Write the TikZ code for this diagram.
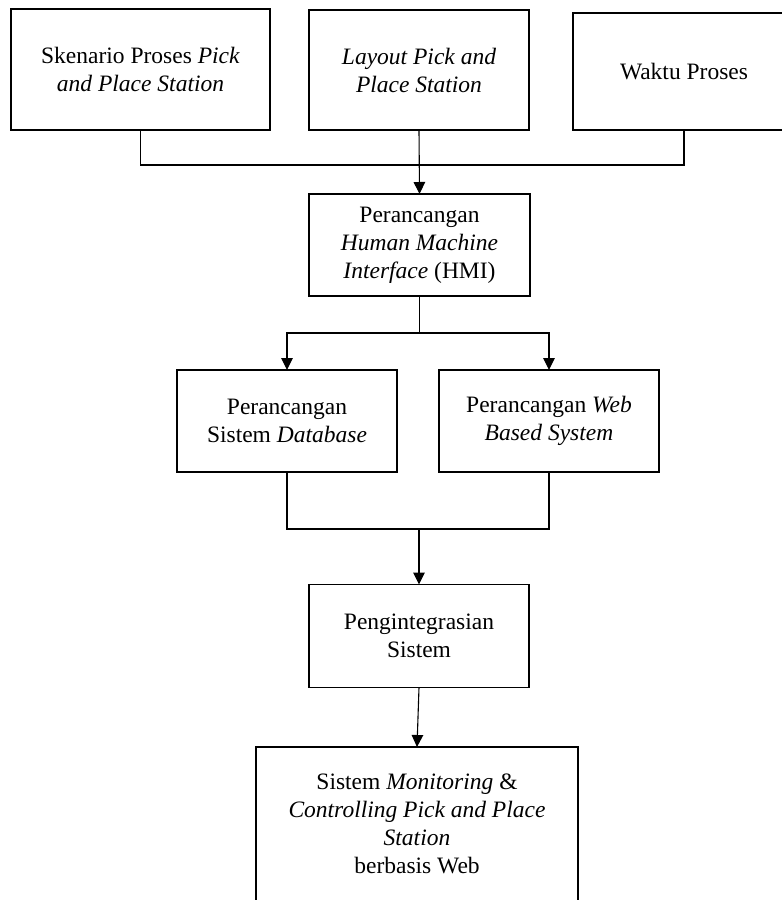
\documentclass[tikz,border=0pt]{standalone}
\usepackage{fontspec}
\setmainfont{Liberation Serif}
\usetikzlibrary{arrows.meta}
\begin{document}
\begin{tikzpicture}[x=1pt,y=-1pt,
  box/.style={draw, line width=1.1pt, inner sep=0pt, outer sep=0pt, align=center, font=\fontsize{23.5}{28}\selectfont},
  txt/.style={inner sep=0pt, outer sep=0pt, align=center, font=\fontsize{23.5}{28}\selectfont},
  ln/.style={line width=1.1pt},
  arr/.style={line width=1.1pt, -{Triangle[length=12pt,width=11.5pt]}}]
\useasboundingbox (0,0) rectangle (782,900);
\clip (0,0) rectangle (782,900);
\fill[white] (0,0) rectangle (782,900);
\node[box, minimum width=259, minimum height=121] (b1) at (140.5,69.5) {Skenario Proses \textit{Pick}\\\textit{and Place Station}};
\node[box, minimum width=220, minimum height=120] (b2) at (419,70) {\textit{Layout Pick and}\\\textit{Place Station}};
\node[box, minimum width=222, minimum height=117] (b3) at (684,71.5) {Waktu Proses};
\node[box, minimum width=221, minimum height=102] (hmi) at (419.5,245) {Perancangan\\\textit{Human Machine}\\\textit{Interface} (HMI)};
\node[box, minimum width=220, minimum height=102] (db) at (287,421) {Perancangan\\Sistem \textit{Database}};
\node[box, minimum width=220, minimum height=102] (web) at (549,421) {Perancangan \textit{Web}\\\textit{Based System}};
\node[box, minimum width=220, minimum height=103] (int) at (419,636) {Pengintegrasian\\Sistem};
\node[box, minimum width=322, minimum height=180, anchor=north] (fin) at (417,747) {};
\node[txt] (fint) at (417,824) {Sistem \textit{Monitoring} \&\\\textit{Controlling Pick and Place}\\\textit{Station}\\berbasis Web};
\coordinate (j1) at (419,165);
\coordinate (j2) at (419.5,333);
\coordinate (j3) at (419,529);
\draw[ln] (b1.south) |- (j1) -| (b3.south);
\draw[arr] (b2.south) -- (hmi.north);
\draw[arr] (hmi.south) -- (j2) -| (db.north);
\draw[arr] (j2) -| (web.north);
\draw[ln] (db.south) |- (j3) -| (web.south);
\draw[arr] (j3) -- (int.north);
\draw[arr] (int.south) -- (fin.north);
\end{tikzpicture}
\end{document}
